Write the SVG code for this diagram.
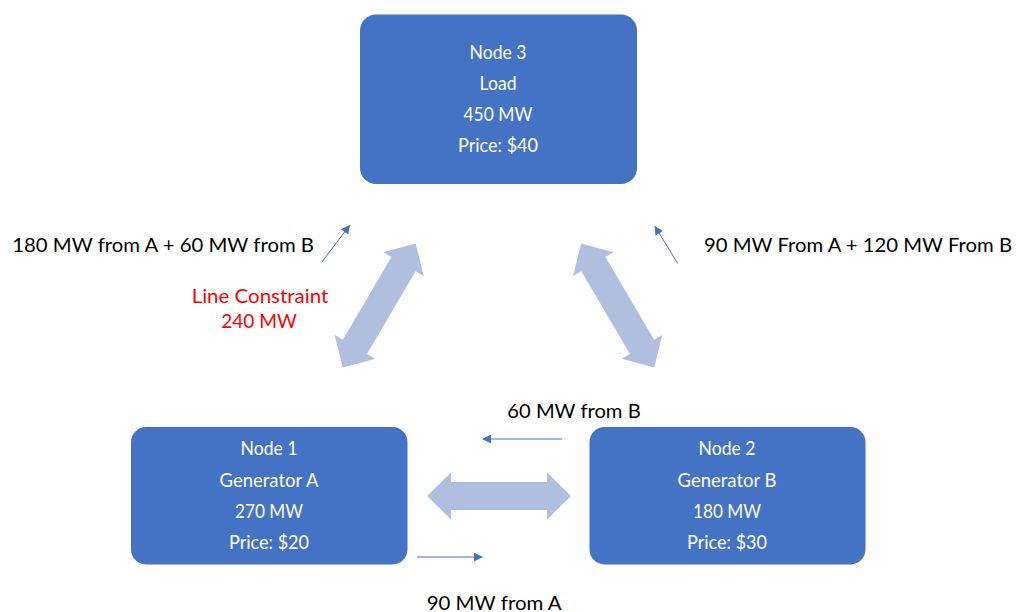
<svg xmlns="http://www.w3.org/2000/svg" width="1016" height="612" viewBox="0 0 1016 612">
<style>
.node{fill:#4472C4;}
.nt{font-family:"Lato","Open Sans",sans-serif;font-size:20px;fill:#FFFFFF;text-anchor:middle;}
.lbl{font-family:"Lato","Open Sans",sans-serif;font-size:20px;fill:#000000;}
.red{font-family:"Lato","Open Sans",sans-serif;font-size:20px;fill:#FF0000;text-anchor:middle;}
.big{fill:#B0BFE0;}
.flow{stroke:#4472C4;stroke-width:1;fill:none;marker-end:url(#ah);}
</style>
<defs>
<marker id="ah" viewBox="0 0 10 10" refX="9" refY="5" markerWidth="9" markerHeight="9" markerUnits="userSpaceOnUse" orient="auto">
<path d="M0,0 L10,5 L0,10 Z" fill="#4472C4"/>
</marker>
<path id="dbl" d="M-72,0 L-48,-23.5 L-48,-14 L48,-14 L48,-23.5 L72,0 L48,23.5 L48,14 L-48,14 L-48,23.5 Z"/>
</defs>
<rect width="1016" height="612" fill="#FFFFFF"/>
<g id="node3">
<rect class="node" x="360" y="14.5" width="277" height="169.5" rx="16"/>
<text class="nt" x="498" y="59" textLength="57" lengthAdjust="spacingAndGlyphs">Node 3</text>
<text class="nt" x="498" y="90" textLength="37" lengthAdjust="spacingAndGlyphs">Load</text>
<text class="nt" x="498" y="120.5" textLength="69" lengthAdjust="spacingAndGlyphs">450 MW</text>
<text class="nt" x="498" y="151.5" textLength="80" lengthAdjust="spacingAndGlyphs">Price: $40</text>
</g>
<g id="node1">
<rect class="node" x="131" y="427" width="276.5" height="137.5" rx="15"/>
<text class="nt" x="269" y="455" textLength="57" lengthAdjust="spacingAndGlyphs">Node 1</text>
<text class="nt" x="269" y="487" textLength="99" lengthAdjust="spacingAndGlyphs">Generator A</text>
<text class="nt" x="269" y="517.5" textLength="68" lengthAdjust="spacingAndGlyphs">270 MW</text>
<text class="nt" x="269" y="548.5" textLength="80" lengthAdjust="spacingAndGlyphs">Price: $20</text>
</g>
<g id="node2">
<rect class="node" x="589.5" y="427" width="276" height="137.5" rx="15"/>
<text class="nt" x="727" y="455" textLength="57" lengthAdjust="spacingAndGlyphs">Node 2</text>
<text class="nt" x="727" y="487" textLength="99" lengthAdjust="spacingAndGlyphs">Generator B</text>
<text class="nt" x="727" y="517.5" textLength="68" lengthAdjust="spacingAndGlyphs">180 MW</text>
<text class="nt" x="727" y="548.5" textLength="80" lengthAdjust="spacingAndGlyphs">Price: $30</text>
</g>
<g id="connectors">
<use href="#dbl" class="big" transform="translate(379.2,305.5) rotate(-59.6)"/>
<use href="#dbl" class="big" transform="translate(617.7,305.5) rotate(59.5)"/>
<use href="#dbl" class="big" transform="translate(499,496)"/>
<line class="flow" x1="321.7" y1="262.3" x2="349.5" y2="225.5"/>
<line class="flow" x1="677.7" y1="263.3" x2="655" y2="226.5"/>
<line class="flow" x1="562" y1="439" x2="483" y2="439"/>
<line class="flow" x1="417" y1="557" x2="482" y2="557"/>
</g>
<g id="labels">
<text class="lbl" x="12.3" y="251.7" textLength="301.7" lengthAdjust="spacingAndGlyphs">180 MW from A + 60 MW from B</text>
<text class="lbl" x="704" y="251.7" textLength="308" lengthAdjust="spacingAndGlyphs">90 MW From A + 120 MW From B</text>
<text class="red" x="260" y="303.3" textLength="136.6" lengthAdjust="spacingAndGlyphs">Line Constraint</text>
<text class="red" x="259" y="328.3" textLength="75.7" lengthAdjust="spacingAndGlyphs">240 MW</text>
<text class="lbl" x="507.3" y="418.3" textLength="133.4" lengthAdjust="spacingAndGlyphs">60 MW from B</text>
<text class="lbl" x="426.7" y="610" textLength="135" lengthAdjust="spacingAndGlyphs">90 MW from A</text>
</g>
</svg>
